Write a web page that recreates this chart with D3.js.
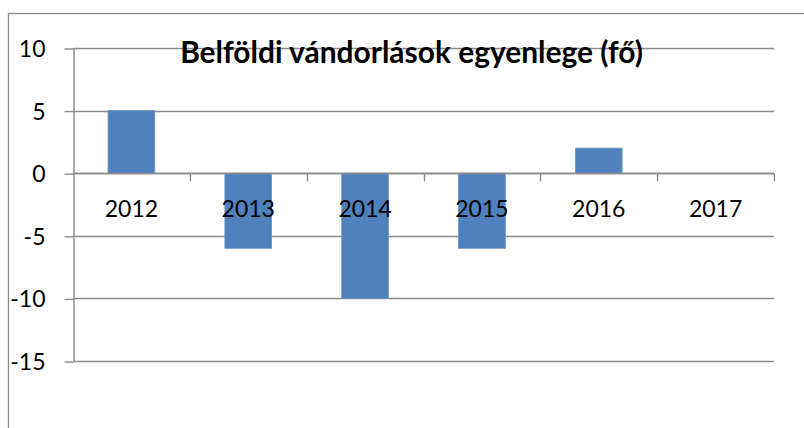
<!DOCTYPE html>
<html><head><meta charset="utf-8">
<script src="https://cdn.jsdelivr.net/npm/d3@7"></script>
<style>
html,body{margin:0;padding:0;background:#fff;}
svg{display:block;}
</style>
</head><body>
<svg id="chart" width="804" height="428"></svg>
<script>
const categories = ["2012","2013","2014","2015","2016","2017"];
const values = [5, -6, -10, -6, 2, 0];
const yTicks = [10, 5, 0, -5, -10, -15];
const title = "Belföldi vándorlások egyenlege (fő)";

(function () {
const svg = d3.select("#chart");
const font = "Lato, 'Open Sans', sans-serif";
const gridColor = "#8a8a8a";

// outer chart border (cropped right/bottom)
svg.append("rect").attr("x", 8.5).attr("y", 13.5).attr("width", 900).attr("height", 600)
  .attr("fill", "none").attr("stroke", gridColor).attr("stroke-width", 1.3);

const pLeft = 73, pRight = 774, pTop = 48, pBottom = 361;
const y = d3.scaleLinear().domain([-15, 10]).range([pBottom, pTop]);
const x = d3.scaleBand().domain(categories).range([pLeft, pRight]).paddingInner(0.6).paddingOuter(0.3);

// gridlines
svg.append("g").selectAll("line").data(yTicks).join("line")
  .attr("x1", pLeft).attr("x2", pRight)
  .attr("y1", d => Math.round(y(d)) + 0.5).attr("y2", d => Math.round(y(d)) + 0.5)
  .attr("stroke", gridColor).attr("stroke-width", 1.4);

// left axis
const yAxis = d3.axisLeft(y).tickValues(yTicks).tickSizeInner(9).tickSizeOuter(0).tickPadding(19);
const gy = svg.append("g").attr("transform", `translate(${pLeft + 0.5},0.5)`).call(yAxis);
gy.select(".domain").attr("stroke", gridColor).attr("stroke-width", 1.4);
gy.selectAll(".tick line").attr("stroke", gridColor).attr("stroke-width", 1.4);
gy.selectAll(".tick text").attr("font-family", font).attr("font-size", 23).attr("fill", "#000")
  .attr("dy", "0.35em").text(d => d);

// bars
svg.append("g").selectAll("rect").data(values).join("rect")
  .attr("x", (d, i) => x(categories[i]))
  .attr("width", x.bandwidth())
  .attr("y", d => y(Math.max(0, d)))
  .attr("height", d => Math.abs(y(d) - y(0)))
  .attr("fill", "#4f81bd").attr("stroke", "#6a95c8").attr("stroke-width", 0.8);

// category axis at zero
const y0 = Math.round(y(0)) + 0.5;
svg.append("line").attr("x1", pLeft).attr("x2", pRight).attr("y1", y0).attr("y2", y0)
  .attr("stroke", gridColor).attr("stroke-width", 1.4);
const step = (pRight - pLeft) / categories.length;
svg.append("g").selectAll("line").data(d3.range(1, categories.length + 1)).join("line")
  .attr("x1", i => Math.round(pLeft + i * step) + 0.5).attr("x2", i => Math.round(pLeft + i * step) + 0.5)
  .attr("y1", y0).attr("y2", y0 + 8)
  .attr("stroke", gridColor).attr("stroke-width", 1.4);

svg.append("g").selectAll("text").data(categories).join("text")
  .attr("x", c => x(c) + x.bandwidth() / 2)
  .attr("y", y(0) + 44)
  .attr("text-anchor", "middle")
  .attr("font-family", font).attr("font-size", 23).attr("fill", "#000")
  .text(c => c);

// title
const t = svg.append("text").attr("x", 411.5).attr("y", 63).attr("text-anchor", "middle")
  .attr("font-family", font).attr("font-weight", "bold").attr("font-size", 26).attr("fill", "#000")
  .text(title);
const w = t.node().getComputedTextLength();
t.attr("font-size", 26 * 463 / w);
})();
</script>
</body></html>
